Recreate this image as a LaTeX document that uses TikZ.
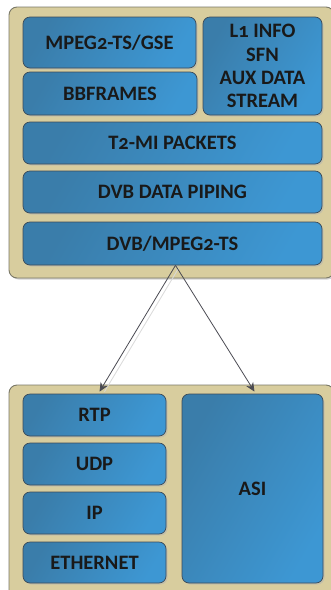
\documentclass[tikz,border=0pt]{standalone}
\usepackage{fontspec}
\setmainfont{Carlito}[Numbers=OldStyle]
\usepackage{tikz}
\usetikzlibrary{arrows.meta,shadows,calc}

\definecolor{panel}{HTML}{D8CD9E}
\definecolor{panelline}{HTML}{7A7868}
\definecolor{layerdark}{HTML}{3A7DAA}
\definecolor{layerlight}{HTML}{3D97D3}
\definecolor{layerline}{HTML}{3B4A58}
\definecolor{linkline}{HTML}{4A4A52}

\tikzset{
	stack/.style={draw=panelline,fill=panel,rounded corners=8pt,line width=0.9pt,
		drop shadow={shadow xshift=1.5pt,shadow yshift=-1.5pt,fill=black!35}},
	layer/.style={draw=layerline,line width=0.7pt,rounded corners=7pt,
		left color=layerdark,right color=layerlight,shading angle=60,
		drop shadow={shadow xshift=1.5pt,shadow yshift=-1.5pt,fill=black!30},
		font=\fontsize{20.5}{23.3}\selectfont\bfseries,text=black!90,align=center,
		inner sep=0pt},
	link/.style={draw=linkline,line width=0.8pt,-{Stealth[length=9pt,width=8pt]}}
}

\begin{document}
\begin{tikzpicture}[x=1pt,y=-1pt]
	\useasboundingbox (0,0) rectangle (330,590);
	% containers
	\draw[stack] (9,7) rectangle (334,278);
	\draw[stack] (9,385) rectangle (334,600);
	% top stack
	\node[layer,minimum width=173pt,minimum height=51pt] (gse) at (109.5,42.5) {MPEG2-TS/GSE};
	\node[layer,minimum width=174pt,minimum height=43pt] (bb) at (110,93.5) {BBFRAMES};
	\node[layer,minimum width=119pt,minimum height=98pt] (l1) at (262.5,66) {L1 INFO\\SFN\\AUX DATA\\STREAM};
	\node[layer,minimum width=299pt,minimum height=42pt] (t2mi) at (172.5,143) {T2-MI PACKETS};
	\node[layer,minimum width=299pt,minimum height=42pt] (pipe) at (172.5,192) {DVB DATA PIPING};
	\node[layer,minimum width=299pt,minimum height=43pt] (ts) at (172.5,243.5) {DVB/MPEG2-TS};
	% bottom stack
	\node[layer,minimum width=143pt,minimum height=42pt] (rtp) at (94.5,415) {RTP};
	\node[layer,minimum width=143pt,minimum height=42pt] (udp) at (94.5,464) {UDP};
	\node[layer,minimum width=143pt,minimum height=42pt] (ip) at (94.5,513) {IP};
	\node[layer,minimum width=143pt,minimum height=41pt] (eth) at (94.5,562.5) {ETHERNET};
	\node[layer,minimum width=141pt,minimum height=189pt] (asi) at (252.5,488.5) {ASI};
	% links
	\coordinate (top) at ($(ts.south)+(3,0)$);
	\coordinate (rtpin) at ($(rtp.north)+(5,-2)$);
	\coordinate (asiin) at ($(asi.north)+(2,-2)$);
	\draw[black!15,line width=0.8pt] ($(top)+(3,3)$) -- ($(rtpin)+(5,0)$);
	\draw[link] (top) -- (rtpin);
	\draw[link] (top) -- (asiin);
\end{tikzpicture}
\end{document}
